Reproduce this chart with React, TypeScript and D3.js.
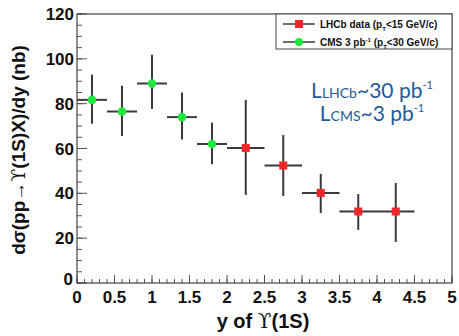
import React from "react";
import * as d3 from "d3";

const cmsY = [0.2, 0.6, 1.0, 1.4, 1.8];
const cmsHalfWidth = [0.2, 0.2, 0.2, 0.2, 0.2];
const cmsVal = [81.7, 76.5, 89.0, 74.0, 62.0];
const cmsErrHi = [11.2, 11.5, 12.8, 11.0, 9.5];
const cmsErrLo = [10.7, 10.9, 11.4, 10.0, 9.0];

const lhcbY = [2.25, 2.75, 3.25, 3.75, 4.25];
const lhcbHalfWidth = [0.25, 0.25, 0.25, 0.25, 0.25];
const lhcbVal = [60.2, 52.4, 40.2, 31.9, 31.9];
const lhcbErrHi = [21.5, 13.6, 8.5, 7.8, 12.7];
const lhcbErrLo = [20.9, 13.6, 9.0, 8.2, 13.6];

const xTicks = [0, 0.5, 1, 1.5, 2, 2.5, 3, 3.5, 4, 4.5, 5];
const xTickLabels = ["0", "0.5", "1", "1.5", "2", "2.5", "3", "3.5", "4", "4.5", "5"];
const yTicks = [0, 20, 40, 60, 80, 100, 120];

const W = 459, H = 336;
const left = 77, right = 452, top = 14, bottom = 283;

export default function App() {
  const x = d3.scaleLinear().domain([0, 5]).range([left, right]);
  const y = d3.scaleLinear().domain([0, 120]).range([bottom, top]);
  const xMinor = d3.range(0, 5.0001, 0.1);
  const yMinor = d3.range(0, 120.001, 5);
  const font = "Liberation Sans, Arial, Helvetica, sans-serif";
  const upsFont = "DejaVu Serif";
  const errColor = "#3a3a3a";

  const series = (
    ys: number[], hw: number[], v: number[], hi: number[], lo: number[],
    color: string, shape: "sq" | "circ", key: string
  ) =>
    ys.map((yy, i) => (
      <g key={key + i}>
        <line x1={x(yy - hw[i])} x2={x(yy + hw[i])} y1={y(v[i])} y2={y(v[i])} stroke={errColor} strokeWidth={2} />
        <line x1={x(yy)} x2={x(yy)} y1={y(v[i] + hi[i])} y2={y(v[i] - lo[i])} stroke={errColor} strokeWidth={2} />
        {shape === "sq" ? (
          <rect x={x(yy) - 4} y={y(v[i]) - 4} width={8} height={8} fill={color} />
        ) : (
          <circle cx={x(yy)} cy={y(v[i])} r={4.3} fill={color} />
        )}
      </g>
    ));

  return (
    <svg width={W} height={H} style={{ position: "absolute", left: 0, top: 0, background: "#fff" }}>
      <rect x={0} y={0} width={W} height={H} fill="#fff" />
      {xMinor.map((t, i) => (
        <line key={"xm" + i} x1={x(t)} x2={x(t)} y1={bottom} y2={bottom - 4} stroke="#555" strokeWidth={1} />
      ))}
      {xTicks.map((t, i) => (
        <line key={"xM" + i} x1={x(t)} x2={x(t)} y1={bottom} y2={bottom - 8} stroke="#555" strokeWidth={1} />
      ))}
      {yMinor.map((t, i) => (
        <line key={"ym" + i} x1={left} x2={left + 5} y1={y(t)} y2={y(t)} stroke="#555" strokeWidth={1} />
      ))}
      {yTicks.map((t, i) => (
        <line key={"yM" + i} x1={left} x2={left + 10} y1={y(t)} y2={y(t)} stroke="#555" strokeWidth={1} />
      ))}
      <rect x={left} y={top} width={right - left} height={bottom - top} fill="none" stroke="#444" strokeWidth={1.2} />

      {xTicks.map((t, i) => (
        <text key={"xl" + i} x={x(t)} y={303} textAnchor="middle" fontFamily={font} fontWeight="bold" fontSize={17} fill="#111">
          {xTickLabels[i]}
        </text>
      ))}
      {yTicks.map((t, i) => (
        <text key={"yl" + i} x={t === 0 ? left - 4 : left - 3} y={y(t) + (t === 0 ? 2 : 6)} textAnchor="end" fontFamily={font} fontWeight="bold" fontSize={17} fill="#111">
          {t}
        </text>
      ))}

      <text x={263} y={328} textAnchor="middle" fontFamily={font} fontWeight="bold" fontSize={20} fill="#111">
        y of <tspan fontFamily={upsFont} fontWeight="normal">ϒ</tspan>(1S)
      </text>
      <text transform={`translate(25,150) rotate(-90)`} textAnchor="middle" fontFamily={font} fontWeight="bold" fontSize={19} fill="#111">
        dσ(pp→<tspan fontFamily={upsFont} fontWeight="normal">ϒ</tspan>(1S)X)/dy (nb)
      </text>

      {series(cmsY, cmsHalfWidth, cmsVal, cmsErrHi, cmsErrLo, "#1ee83c", "circ", "c")}
      {series(lhcbY, lhcbHalfWidth, lhcbVal, lhcbErrHi, lhcbErrLo, "#f0262a", "sq", "l")}

      <rect x={276} y={top} width={right - 276} height={35} fill="#fff" stroke="#444" strokeWidth={1} />
      <line x1={283} x2={315} y1={24} y2={24} stroke={errColor} strokeWidth={1.5} />
      <rect x={295} y={20} width={8} height={8} fill="#f0262a" />
      <text x={320} y={28} fontFamily={font} fontWeight="bold" fontSize={10} fill="#111">
        LHCb data (p<tspan fontSize={6} dy={3}>T</tspan><tspan dy={-3}>&lt;15 GeV/c)</tspan>
      </text>
      <line x1={283} x2={315} y1={42} y2={42} stroke={errColor} strokeWidth={1.5} />
      <circle cx={299} cy={42} r={4} fill="#1ee83c" />
      <text x={320} y={46} fontFamily={font} fontWeight="bold" fontSize={10} fill="#111">
        CMS 3 pb<tspan fontSize={6} dy={-4}>-1</tspan><tspan dy={4}> (p</tspan><tspan fontSize={6} dy={3}>T</tspan><tspan dy={-3}>&lt;30 GeV/c)</tspan>
      </text>

      <text x={372} y={98} textAnchor="middle" fontFamily="Lato, Open Sans, sans-serif" fontSize={21} fill="#1f5a98">
        L<tspan fontSize={14}>LHCb</tspan>~30 pb<tspan fontSize={11} dy={-9}>-1</tspan>
      </text>
      <text x={372} y={121} textAnchor="middle" fontFamily="Lato, Open Sans, sans-serif" fontSize={21} fill="#1f5a98">
        L<tspan fontSize={14}>CMS</tspan>~3 pb<tspan fontSize={11} dy={-9}>-1</tspan>
      </text>
    </svg>
  );
}
